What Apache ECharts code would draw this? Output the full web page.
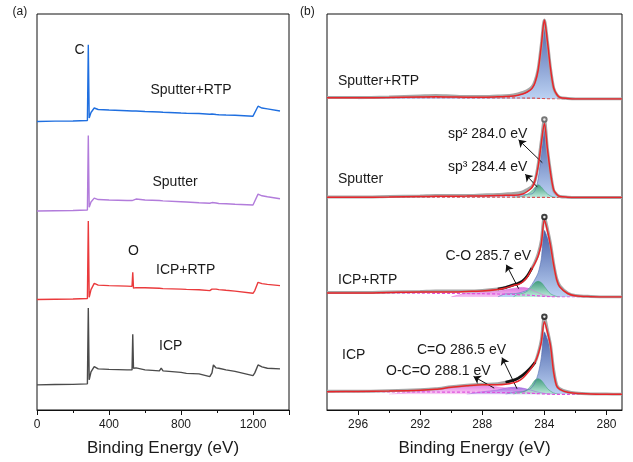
<!DOCTYPE html>
<html>
<head>
<meta charset="utf-8">
<script src="https://cdn.jsdelivr.net/npm/echarts@6/dist/echarts.min.js"></script>
<style>
  html, body { margin: 0; padding: 0; background: #fff; }
  #chart { width: 633px; height: 462px; }
</style>
</head>
<body>
<div id="chart"></div>
<script>
// ---- (a) survey spectra, intensity in a.u. above each trace's own baseline
const surveyEnergy = [0, 100, 200, 280, 285, 290, 300, 318, 340, 400, 500, 528, 532, 536, 550, 600, 680, 690, 700, 800, 830, 840, 900, 960, 972, 980, 995, 1010, 1050, 1100, 1200, 1210, 1228, 1250, 1280, 1350]
const surveySputterRtp = [0, 0.3, 0.5, 1, 77, 3.5, 9, 13.5, 12, 11.5, 10.8, 10.5, 10.5, 11, 10.5, 10, 9.5, 9.5, 9.3, 8.5, 8.3, 8.3, 8, 7.3, 7.5, 8, 7, 6.8, 6.5, 6.2, 5.3, 7, 15.3, 13.5, 12.7, 10.5]
const surveySputter = [0, 0.3, 0.5, 1, 76, 3.7, 9, 13, 11.5, 11, 10.5, 10.5, 10.5, 10.5, 12, 11, 10.5, 10.5, 10.2, 9.3, 9, 9, 8.3, 7.8, 8.5, 10, 8, 7.6, 7.3, 6.8, 6, 8, 17, 15.3, 14.3, 12.3]
const surveyIcpRtp = [0, 0.3, 0.5, 1, 79, 2.3, 10, 16.3, 14.5, 14, 13.5, 13.3, 27.3, 11.5, 12, 11.8, 11.3, 12.5, 11, 10.5, 10.2, 10, 9.8, 9, 10.5, 12.3, 10.5, 10, 9.3, 8.5, 6.3, 9, 17.3, 16, 15.3, 14]
const surveyIcp = [0, 0.3, 0.5, 1, 77.3, 5, 13, 18.3, 16, 15.5, 15, 15, 50.7, 16.7, 17, 15, 14, 16.7, 14, 12.5, 11.5, 13, 11, 8.3, 12, 20, 17, 16.7, 15, 13.5, 9.3, 12, 20, 18, 16.7, 16]
const surveyOffset = [290, 200, 111, 25.3]
const sampleNames = ['Sputter+RTP', 'Sputter', 'ICP+RTP', 'ICP']

// ---- (b) C 1s spectra
const c1sEnergy = [298, 296, 294, 292, 291, 290, 289, 288, 287, 286.5, 286, 285.7, 285.4, 285.1, 284.8, 284.6, 284.4, 284.2, 284.0, 283.8, 283.6, 283.4, 283.2, 283.0, 282.5, 282, 281, 280, 279]
const c1sOffset = [313, 214.5, 115, 17.7]

const srData = [1.5, 1.5, 2, 3, 3.5, 3, 2.5, 2.5, 3, 3.2, 4, 5, 6.5, 8.5, 12, 18, 30, 54, 79, 57, 30, 11, 4.5, 1.5, 0.5, 0, 0, 0, 0]
const srFit = [1.3, 1.3, 1.5, 2, 2.2, 2, 1.8, 1.8, 2.2, 2.5, 3, 3.8, 5, 7, 10.5, 16.5, 29, 53, 79, 57, 30, 11, 4.5, 1.5, 0.5, 0, 0, 0, 0]
const srBg = [1.3, 1.3, 1.3, 1.3, 1.3, 1.25, 1.2, 1.2, 1.15, 1.1, 1.05, 1, 1, 0.9, 0.85, 0.8, 0.7, 0.55, 0.4, 0.2, 0.1, 0.05, 0, 0, 0, 0, 0, 0, 0]
const srSp2 = [0, 0, 0.2, 0.7, 0.9, 0.8, 0.6, 0.6, 1, 1.4, 2, 2.8, 4, 6, 9.7, 15.7, 28.3, 52.5, 78.6, 56.8, 29.9, 11, 4.5, 1.5, 0.5, 0, 0, 0, 0]

const spData = [0.5, 0.5, 1, 1.5, 2, 2, 2, 2.5, 3, 3.5, 4, 4.5, 5.5, 8, 11, 17, 33, 56, 78, 48, 25, 7, 3, 1, 0.3, 0, 0, 0, 0]
const spFit = [0.3, 0.3, 0.5, 1, 1.2, 1.3, 1.4, 1.6, 2, 2.2, 2.3, 2.5, 3.5, 6, 10, 17, 31, 54, 74, 48, 24, 7.5, 3, 1, 0.3, 0, 0, 0, 0]
const spBg = [0.3, 0.3, 0.3, 0.3, 0.3, 0.3, 0.3, 0.3, 0.3, 0.3, 0.3, 0.3, 0.3, 0.25, 0.2, 0.2, 0.15, 0.1, 0.1, 0.05, 0, 0, 0, 0, 0, 0, 0, 0, 0]
const spSp2 = [0.1, 0.1, 0.2, 0.5, 0.6, 0.8, 1, 1.2, 1.6, 1.9, 2, 2.2, 2.5, 3, 3.5, 6.8, 18.5, 43.5, 67.4, 44.4, 22.5, 7.5, 3, 1, 0.3, 0, 0, 0, 0]
const spSp3 = [0, 0, 0, 0, 0, 0, 0, 0, 0, 0, 0, 0.3, 1, 3, 6.5, 10, 12.5, 10.5, 6.5, 3.5, 1.5, 0.5, 0, 0, 0, 0, 0, 0, 0]

const irData = [4.5, 4.5, 5, 5.5, 6, 6, 6, 6.5, 8, 9.5, 12, 13.5, 16, 21, 29, 35, 43, 56, 80, 68, 53, 33, 18, 11, 4, 1.5, 0.5, 0, 0]
const irFit = [4, 4, 4.5, 5, 5, 5, 5.5, 6, 7.5, 9, 11.5, 12.5, 15, 20, 28.5, 34, 41, 53, 77, 66, 51, 32, 17, 10, 3.5, 1.2, 0.3, 0, 0]
const irBg = [4, 4, 3.9, 3.8, 3.7, 3.6, 3.5, 3.3, 3, 2.8, 2.5, 2.3, 2.1, 1.9, 1.6, 1.4, 1.2, 0.9, 0.6, 0.4, 0.2, 0.1, 0, 0, 0, 0, 0, 0, 0]
const irSp2 = [0, 0, 0, 0, 0, 0, 0, 0, 0, 0.3, 0.8, 1.5, 3, 5, 11, 16.5, 23, 37, 66, 59, 47.5, 30, 16, 9.5, 3.2, 1, 0.3, 0, 0]
const irSp3 = [0, 0, 0, 0, 0, 0, 0, 0, 0, 0, 0, 0.5, 1.5, 4, 9, 13, 14.5, 13.5, 10, 6, 3, 1.5, 0.5, 0, 0, 0, 0, 0, 0]
const irCO = [0, 0, 0, 0, 0, 0, 0.3, 1.2, 3, 4.5, 6, 7, 7.5, 7, 5.5, 4, 3, 2, 1.3, 0.8, 0.4, 0, 0, 0, 0, 0, 0, 0, 0]

const icData = [3, 3, 3.5, 4.5, 5.5, 7.5, 9, 10, 10.5, 12, 14, 16, 19, 23, 28, 32, 41, 54, 77.6, 64, 49, 24, 9, 5.5, 2.5, 1.2, 0.4, 0.2, 0]
const icFit = [2.6, 2.8, 3.2, 4, 5, 7, 8.5, 9.5, 9.5, 10, 11.5, 13, 16, 21, 27, 32, 40, 52, 72.6, 62, 48, 22, 8, 5, 2, 1, 0.3, 0, 0]
const icBg = [2.6, 2.6, 2.5, 2.4, 2.3, 2.2, 2.1, 2, 1.8, 1.7, 1.5, 1.4, 1.2, 1.1, 0.9, 0.8, 0.6, 0.5, 0.4, 0.2, 0.1, 0, 0, 0, 0, 0, 0, 0, 0]
const icSp2 = [0, 0, 0, 0, 0, 0, 0, 0, 0, 0, 0.5, 1, 1.5, 3, 6, 11, 20, 36, 62, 55, 43, 19, 7, 4, 1.5, 0.5, 0, 0, 0]
const icSp3 = [0, 0, 0, 0, 0, 0, 0, 0, 0, 0, 0, 0.3, 1, 3.5, 9, 13.5, 15, 13.5, 9.5, 5.5, 3, 1.3, 0.5, 0, 0, 0, 0, 0, 0]
const icCdO = [0, 0, 0, 0, 0, 0, 0, 0.5, 2.5, 4.5, 5.5, 5.5, 5, 4, 3, 2, 1.5, 1, 0.6, 0.3, 0.2, 0, 0, 0, 0, 0, 0, 0, 0]
const icOCO = [0, 0, 0, 0.5, 2, 4.5, 6, 7, 5.5, 4.5, 3, 2.3, 1.5, 1, 0.5, 0.3, 0, 0, 0, 0, 0, 0, 0, 0, 0, 0, 0, 0, 0]

const FONT = '"Liberation Sans", Arial, sans-serif'
const TXT = '#1a1a1a'
const PLOT_TOP = 14
const PLOT_BOTTOM = 412

const compStyle = {
  sp2: ['#4860a8', '#bcd2f3', '#5870b4'],
  sp3: ['#3a9a74', '#bfeedb', '#47a581'],
  co: ['#dd74dc', '#f6c4f3', '#dd74dc'],
  cdo: ['#a86be0', '#dcc2f6', '#a86be0'],
  oco: ['#e884e4', '#f8cff5', '#e884e4'],
}

const c1s = [
  { data: srData, fit: srFit, bg: srBg, bgColor: '#d65353', comps: [['sp2', srSp2]] },
  { data: spData, fit: spFit, bg: spBg, bgColor: '#d65353', comps: [['sp2', spSp2], ['sp3', spSp3]], top: '#555' },
  { data: irData, fit: irFit, bg: irBg, bgColor: '#e050de', comps: [['co', irCO], ['sp2', irSp2], ['sp3', irSp3]], dark: [287, 284.8], top: '#111' },
  { data: icData, fit: icFit, bg: icBg, bgColor: '#e050de', comps: [['oco', icOCO], ['cdo', icCdO], ['sp2', icSp2], ['sp3', icSp3]], dark: [286.5, 284.6], top: '#111' },
]

const grids = [
  { left: 37, top: PLOT_TOP, width: 252, height: PLOT_BOTTOM - PLOT_TOP, show: true, borderColor: '#111', borderWidth: 1 },
  { left: 327, top: PLOT_TOP, width: 295, height: PLOT_BOTTOM - PLOT_TOP, show: true, borderColor: '#111', borderWidth: 1 },
]
const hiddenX = (gi) => ({
  gridIndex: gi, type: 'value', min: 279, max: 298, inverse: true, show: false,
})
const xAxes = [
  {
    gridIndex: 0, type: 'value', min: 0, max: 1400, interval: 400,
    axisLine: { lineStyle: { color: '#111' } },
    axisTick: { length: 5, lineStyle: { color: '#111' } },
    minorTick: { show: true, splitNumber: 2, length: 3, lineStyle: { color: '#111' } },
    axisLabel: { fontSize: 12, margin: 9, color: TXT, fontFamily: FONT, showMaxLabel: false, formatter: (v) => String(v) },
    splitLine: { show: false },
    name: 'Binding Energy (eV)', nameLocation: 'middle', nameGap: 30,
    nameTextStyle: { fontSize: 17, color: TXT, fontFamily: FONT },
  },
  {
    gridIndex: 1, type: 'value', min: 279, max: 298, inverse: true, position: 'bottom',
    axisLine: { lineStyle: { color: '#111' } },
    axisTick: { length: 5, customValues: [280, 284, 288, 292, 296], lineStyle: { color: '#111' } },
    axisLabel: { fontSize: 12, margin: 9, color: TXT, fontFamily: FONT, customValues: [280, 284, 288, 292, 296], formatter: (v) => String(v) },
    splitLine: { show: false },
    name: 'Binding Energy (eV)', nameLocation: 'middle', nameGap: 30,
    nameTextStyle: { fontSize: 17, color: TXT, fontFamily: FONT },
  },
  {
    gridIndex: 1, type: 'value', min: 279, max: 298, inverse: true, position: 'bottom',
    axisLine: { show: false },
    axisTick: { length: 3, customValues: [282, 286, 290, 294], lineStyle: { color: '#111' } },
    axisLabel: { show: false },
    splitLine: { show: false },
  },
]
const plainY = (gi, max) => ({
  gridIndex: gi, type: 'value', min: 0, max, axisLine: { show: false }, axisTick: { show: false },
  axisLabel: { show: false }, splitLine: { show: false },
})
const yAxes = [plainY(0, PLOT_BOTTOM - PLOT_TOP), plainY(1, PLOT_BOTTOM - PLOT_TOP)]

const series = []

surveyOffset.forEach((off, i) => {
  const vals = [surveySputterRtp, surveySputter, surveyIcpRtp, surveyIcp][i]
  series.push({
    type: 'line', xAxisIndex: 0, yAxisIndex: 0, name: sampleNames[i],
    data: surveyEnergy.map((e, j) => [e, off + vals[j]]),
    symbol: 'none', color: ['#1f6fe0', '#b27cdb', '#ea3a3c', '#4b4b4b'][i],
    lineStyle: { width: 1.4 }, silent: true,
  })
})

// each C 1s trace gets its own invisible grid whose y = 0 sits on that trace's baseline,
// so component areas fill down to the baseline of their own trace
c1s.forEach((s, i) => {
  const base = PLOT_BOTTOM - c1sOffset[i]
  const gi = grids.length
  grids.push({ left: 327, top: PLOT_TOP, width: 295, height: base - PLOT_TOP, show: false })
  xAxes.push(hiddenX(gi))
  yAxes.push(plainY(gi, base - PLOT_TOP))
  const ax = { xAxisIndex: xAxes.length - 1, yAxisIndex: yAxes.length - 1 }
  const line = (extra) => Object.assign({ type: 'line', smooth: 0.3, symbol: 'none', silent: true }, ax, extra)

  s.comps.forEach(([kind, vals]) => {
    const cs = compStyle[kind]
    const n = vals.length
    series.push(line({
      // component sits on the background; the first zero point on each side closes it to the baseline
      data: c1sEnergy.map((e, j) => {
        if (vals[j] > 0) return [e, s.bg[j] + vals[j]]
        if ((j > 0 && vals[j - 1] > 0) || (j < n - 1 && vals[j + 1] > 0)) return [e, 0]
        return [e, null]
      }),
      lineStyle: { width: 0.6, color: cs[2] },
      areaStyle: {
        opacity: kind === 'sp3' ? 0.9 : 1,
        color: { type: 'linear', x: 0, y: 0, x2: 0, y2: 1, colorStops: [{ offset: 0, color: cs[0] }, { offset: 1, color: cs[1] }] },
      },
      z: 2,
    }))
  })
  series.push(line({
    data: c1sEnergy.map((e, j) => [e, s.bg[j]]),
    lineStyle: { width: 1.2, color: s.bgColor, type: [3, 2] }, z: 3,
  }))
  series.push(line({
    data: c1sEnergy.map((e, j) => [e, s.data[j]]),
    lineStyle: { width: 3, color: '#a6a6a6' }, z: 4,
  }))
  if (s.dark) {
    series.push(line({
      data: c1sEnergy.map((e, j) => [e, e <= s.dark[0] && e >= s.dark[1] ? s.data[j] : null]),
      lineStyle: { width: 2.6, color: '#111' }, z: 5,
    }))
  }
  series.push(line({
    data: c1sEnergy.map((e, j) => [e, s.fit[j]]),
    lineStyle: { width: 1.5, color: '#e8262b' }, z: 6,
  }))
  if (s.top) {
    const j = c1sEnergy.indexOf(284.0)
    series.push(Object.assign({
      type: 'scatter', data: [[284.0, s.data[j]]], symbol: 'emptyCircle', symbolSize: 4.5,
      itemStyle: { color: s.top, borderWidth: 1 }, silent: true, z: 7,
    }, ax))
  }
})

// annotation arrows in the panel (b) frame: (energy, height above frame bottom)
const arrows = [
  [284.13, 248.5, 285.66, 271.5],
  [284.45, 224, 285.23, 237],
  [285.66, 122, 286.45, 146],
  [285.76, 21.3, 286.73, 52.7],
  [287.23, 22, 288.56, 33.7],
]
series.push({
  type: 'line', xAxisIndex: 1, yAxisIndex: 1, data: [[279, 0]], symbol: 'none', lineStyle: { opacity: 0 }, z: 8,
  markLine: {
    silent: true, symbol: ['none', 'arrow'], symbolSize: 7, animation: false,
    lineStyle: { color: '#111', width: 1, type: 'solid' }, label: { show: false },
    data: arrows.map((a) => [{ coord: [a[0], a[1]] }, { coord: [a[2], a[3]] }]),
  },
})

const txt = (x, y, text, size) => ({
  type: 'text', x, y, z: 100,
  style: { text, font: (size || 14) + 'px ' + FONT, fill: TXT, verticalAlign: 'middle' },
})

const chart = echarts.init(document.getElementById('chart'))
chart.setOption({
  animation: false,
  grid: grids,
  xAxis: xAxes,
  yAxis: yAxes,
  series,
  graphic: [
    txt(12.5, 11.5, '(a)', 12),
    txt(300, 11.5, '(b)', 12),
    txt(74.5, 50.5, 'C'),
    txt(150.5, 90, 'Sputter+RTP'),
    txt(152.5, 182.5, 'Sputter'),
    txt(128, 251.5, 'O'),
    txt(156, 270, 'ICP+RTP'),
    txt(159, 346, 'ICP'),
    txt(338, 81, 'Sputter+RTP'),
    txt(338, 179, 'Sputter'),
    txt(338, 280, 'ICP+RTP'),
    txt(342, 355, 'ICP'),
    txt(448, 134, 'sp² 284.0 eV'),
    txt(448, 167.5, 'sp³ 284.4 eV'),
    txt(445.5, 256.5, 'C-O 285.7 eV'),
    txt(417, 350.5, 'C=O 286.5 eV'),
    txt(386, 371.5, 'O-C=O 288.1 eV'),
  ],
})
</script>
</body>
</html>
